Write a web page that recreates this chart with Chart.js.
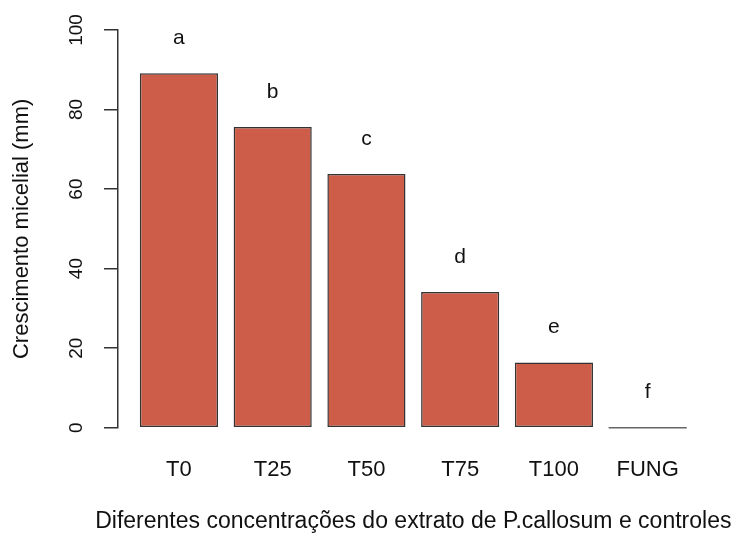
<!DOCTYPE html>
<html>
<head>
<meta charset="utf-8">
<script src="https://cdn.jsdelivr.net/npm/chart.js@4/dist/chart.umd.min.js"></script>
<style>
html,body{margin:0;padding:0;background:#fff;}
canvas{display:block;}
</style>
</head>
<body>
<canvas id="c" width="737" height="538"></canvas>
<script>
// ---- data ----
const categories = ["T0", "T25", "T50", "T75", "T100", "FUNG"];
const growth = [89.1, 75.6, 63.8, 34.1, 16.4, 0];
const groupLetters = ["a", "b", "c", "d", "e", "f"];
const yTicks = [0, 20, 40, 60, 80, 100];
const yTitle = "Crescimento micelial (mm)";
const xTitle = "Diferentes concentrações do extrato de P.callosum e controles";

// R barplot convention: bar width 1, space 0.2
const barWidthUnits = 1, barSpace = 0.2;
const barCenters = categories.map((_, i) => barSpace + i * (barWidthUnits + barSpace) + barWidthUnits / 2);
const xSpan = categories.length * (barWidthUnits + barSpace) - barSpace;
const xMin = barSpace - 0.04 * xSpan;
const xMax = categories.length * (barWidthUnits + barSpace) + 0.04 * xSpan;

const FONT = "'Liberation Sans', Arial, Helvetica, sans-serif";
const AXIS_COLOR = "#333333";

const letterPlugin = {
  id: 'letters',
  afterDatasetsDraw(chart) {
    const ctx = chart.ctx;
    const meta = chart.getDatasetMeta(0);
    ctx.save();
    meta.data.forEach((bar, i) => {
      const v = growth[i];
      if (v === 0) {
        const p = bar.getProps(['x', 'y', 'width'], true);
        ctx.strokeStyle = '#666666';
        ctx.lineWidth = 1.5;
        ctx.beginPath();
        ctx.moveTo(p.x - p.width / 2, p.y);
        ctx.lineTo(p.x + p.width / 2, p.y);
        ctx.stroke();
      }
      ctx.fillStyle = '#111111';
      ctx.font = "21px " + FONT;
      ctx.textAlign = 'center';
      ctx.textBaseline = 'middle';
      ctx.fillText(groupLetters[i], bar.x, bar.y - 35);
    });
    // x-axis title (drawn wider than the plot area, as in R)
    const area = chart.chartArea;
    ctx.font = "23px " + FONT;
    ctx.textAlign = 'center';
    ctx.textBaseline = 'middle';
    ctx.fillText(xTitle, (area.left + area.right) / 2, 522);
    ctx.restore();
  }
};

new Chart(document.getElementById('c'), {
  type: 'bar',
  data: {
    datasets: [{
      data: barCenters.map((x, i) => ({ x: x, y: growth[i] })),
      backgroundColor: '#CD5C48',
      borderColor: '#333333',
      borderWidth: 1.5,
      borderSkipped: false,
      categoryPercentage: 1,
      barPercentage: barWidthUnits / (barWidthUnits + barSpace)
    }]
  },
  options: {
    responsive: false,
    animation: false,
    layout: { padding: { left: 9, right: 28.4, top: 30, bottom: 2 } },
    plugins: { legend: { display: false }, tooltip: { enabled: false } },
    scales: {
      x: {
        type: 'linear',
        offset: false,
        min: xMin,
        max: xMax,
        afterBuildTicks(scale) { scale.ticks = barCenters.map(v => ({ value: v })); },
        afterFit(scale) { scale.height = 538 - 2 - 427.7; },
        border: { display: false },
        grid: { display: false, drawTicks: false, offset: false },
        ticks: {
          autoSkip: false,
          maxRotation: 0,
          padding: 29,
          color: '#111111',
          font: { family: FONT, size: 22 },
          callback(value, index) { return categories[index]; }
        },
        title: { display: false }
      },
      y: {
        min: 0,
        max: 100,
        afterBuildTicks(scale) { scale.ticks = yTicks.map(v => ({ value: v })); },
        afterFit(scale) { scale.width = 118 - 9; },
        border: { display: true, color: AXIS_COLOR, width: 1.5 },
        grid: { display: true, drawOnChartArea: false, drawTicks: true, tickLength: 14, color: AXIS_COLOR, lineWidth: 1.5 },
        ticks: {
          minRotation: 90,
          maxRotation: 90,
          crossAlign: 'center',
          padding: 11,
          color: '#111111',
          font: { family: FONT, size: 19 }
        },
        title: {
          display: true,
          text: yTitle,
          color: '#111111',
          padding: 0,
          font: { family: FONT, size: 22 }
        }
      }
    }
  },
  plugins: [letterPlugin]
});
</script>
</body>
</html>
